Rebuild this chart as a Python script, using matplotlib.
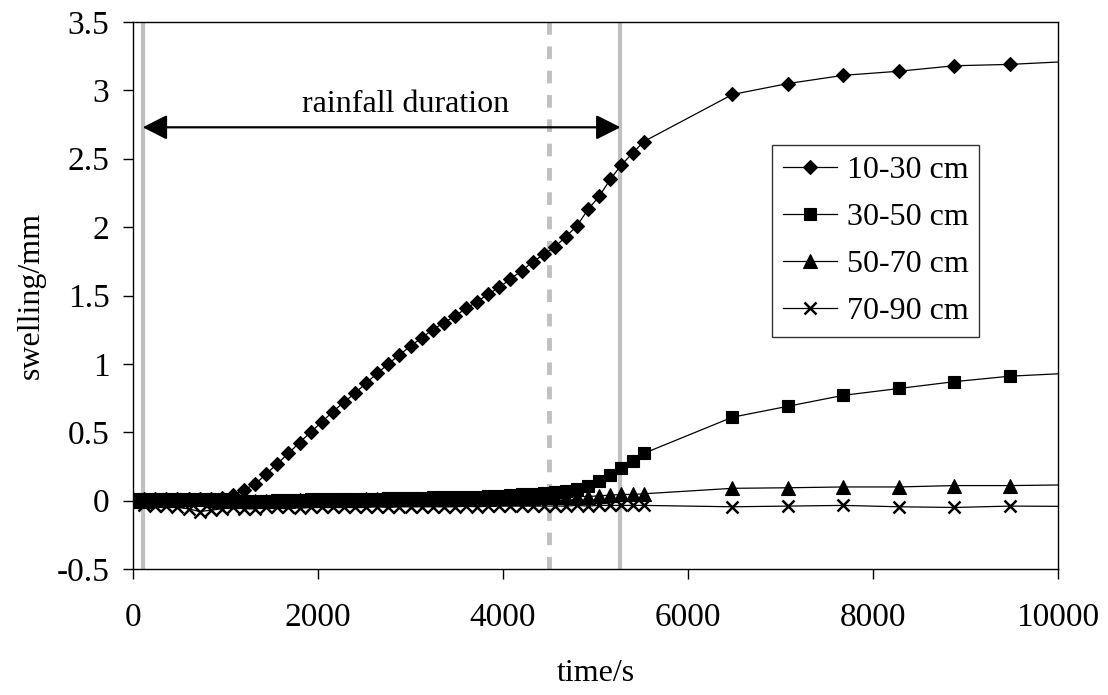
import matplotlib
matplotlib.use("Agg")
import matplotlib.pyplot as plt

plt.rcParams['font.family'] = ['Liberation Serif', 'DejaVu Serif']

# ---- data ----
t_dense = [0, 120, 240, 360, 480, 600, 720, 840, 960, 1080, 1200, 1320, 1440, 1560,
           1680, 1800, 1920, 2040, 2160, 2280, 2400, 2520, 2640, 2760, 2880, 3000,
           3120, 3240, 3360, 3480, 3600, 3720, 3840, 3960, 4080, 4200, 4320, 4440,
           4560, 4680, 4800, 4920, 5040, 5160, 5280, 5400, 5520]
t_sparse = [6480, 7080, 7680, 8280, 8880, 9480, 10080]

s1030_dense = [0.01, 0.01, 0.01, 0.01, 0.01, 0.01, 0.01, 0.01, 0.02, 0.04, 0.08, 0.12,
               0.195, 0.27, 0.345, 0.425, 0.50, 0.575, 0.65, 0.72, 0.785, 0.86, 0.93,
               1.0, 1.065, 1.13, 1.19, 1.25, 1.30, 1.35, 1.405, 1.455, 1.51, 1.56, 1.62,
               1.68, 1.745, 1.80, 1.855, 1.93, 2.01, 2.13, 2.225, 2.35, 2.455, 2.54, 2.625]
s1030_sparse = [2.97, 3.05, 3.11, 3.14, 3.18, 3.19, 3.21]

s3050_dense = [0.01, 0.01, 0.01, 0.01, 0.015, 0.015, 0.015, 0.01, 0.01, 0.005, 0.0, 0.0,
               0.0, 0.005, 0.005, 0.005, 0.01, 0.01, 0.01, 0.01, 0.015, 0.015, 0.015,
               0.02, 0.02, 0.02, 0.02, 0.025, 0.025, 0.025, 0.03, 0.03, 0.035, 0.035,
               0.04, 0.045, 0.05, 0.055, 0.06, 0.07, 0.085, 0.11, 0.14, 0.19, 0.24,
               0.29, 0.345]
s3050_sparse = [0.61, 0.69, 0.77, 0.82, 0.87, 0.91, 0.93]

s5070_dense = [0.0, 0.0, 0.005, 0.005, 0.005, 0.01, 0.01, 0.005, 0.0, 0.0, 0.0, 0.0,
               0.0, 0.0, 0.0, 0.005, 0.005, 0.005, 0.005, 0.005, 0.005, 0.01, 0.01,
               0.01, 0.01, 0.01, 0.01, 0.01, 0.015, 0.015, 0.015, 0.015, 0.015, 0.02,
               0.02, 0.02, 0.02, 0.025, 0.025, 0.025, 0.03, 0.03, 0.035, 0.04, 0.045,
               0.045, 0.05]
s5070_sparse = [0.09, 0.094, 0.10, 0.10, 0.11, 0.11, 0.115]

s7090_dense = [0.0, -0.03, -0.04, -0.04, -0.05, -0.06, -0.08, -0.07, -0.06, -0.05,
               -0.06, -0.06, -0.05, -0.05, -0.05, -0.055, -0.05, -0.05, -0.05, -0.05,
               -0.05, -0.05, -0.045, -0.05, -0.045, -0.045, -0.045, -0.045, -0.045,
               -0.045, -0.04, -0.045, -0.04, -0.04, -0.04, -0.04, -0.04, -0.04, -0.04,
               -0.04, -0.035, -0.04, -0.035, -0.035, -0.035, -0.035, -0.035]
s7090_sparse = [-0.045, -0.04, -0.035, -0.045, -0.05, -0.04, -0.042]

labels = ['10-30 cm', '30-50 cm', '50-70 cm', '70-90 cm']
markers = ['D', 's', '^', 'x']
msizes = [7, 9, 9.5, 9]

rain_start, rain_end, rain_mark = 105, 5270, 4500
arrow_y = 2.73
x_ticks = [0, 2000, 4000, 6000, 8000, 10000]
y_ticks = [-0.5, 0, 0.5, 1, 1.5, 2, 2.5, 3, 3.5]
y_ticklabels = ['-0.5', '0', '0.5', '1', '1.5', '2', '2.5', '3', '3.5']

FS = 23
TFS = 24

# ---- figure ----
fig = plt.figure(figsize=(11.08, 6.95), dpi=100)
ax = fig.add_axes([133/1108, 1-569/695, (1058-133)/1108, (569-22)/695])

gray = '#c0c0c0'
ax.axvline(rain_start, color=gray, lw=3, zorder=1)
ax.axvline(rain_end, color=gray, lw=3, zorder=1)
ax.axvline(rain_mark, color=gray, lw=3.5, dashes=(2.6, 2.4), zorder=1)

series = [(s1030_dense, s1030_sparse), (s3050_dense, s3050_sparse),
          (s5070_dense, s5070_sparse), (s7090_dense, s7090_sparse)]
for (d, s), lab, m, ms in zip(series, labels, markers, msizes):
    xs = t_dense + t_sparse
    ys = d + s
    ax.plot(xs, ys, color='black', lw=0.9, marker=m, markersize=ms,
            markerfacecolor='black', markeredgecolor='black',
            markeredgewidth=1.8 if m == 'x' else 0.8,
            markevery=list(range(len(xs) - 1)), label=lab, zorder=3,
            clip_on=True)

ax.annotate('', xy=(rain_start, arrow_y), xytext=(rain_end, arrow_y),
            arrowprops=dict(arrowstyle='<|-|>,head_length=0.75,head_width=0.38',
                            color='black', lw=1.6, shrinkA=0, shrinkB=0,
                            mutation_scale=20), zorder=4)
ax.text(2950, 2.90, 'rainfall duration', fontsize=FS, ha='center', va='center')

ax.set_xlim(0, 10000)
ax.set_ylim(-0.5, 3.5)
ax.set_xticks(x_ticks)
ax.set_xticklabels([str(v) for v in x_ticks])
ax.set_yticks(y_ticks)
ax.set_yticklabels(y_ticklabels)
ax.tick_params(axis='both', direction='out', length=7, width=1, labelsize=TFS)
ax.tick_params(axis='x', pad=17)
ax.tick_params(axis='y', pad=10)
for sp in ax.spines.values():
    sp.set_linewidth(1)
    sp.set_color('black')

ax.set_xlabel('time/s', fontsize=FS, labelpad=19)
ax.set_ylabel('swelling/mm', fontsize=FS, labelpad=8)

leg = ax.legend(loc='upper left', bbox_to_anchor=(772/1108, 1-145/695),
                bbox_transform=fig.transFigure, fontsize=FS, frameon=True,
                fancybox=False, edgecolor='black', handlelength=1.7,
                handletextpad=0.3, labelspacing=0.55, borderpad=0.34,
                borderaxespad=0)
leg.get_frame().set_linewidth(1)

fig.savefig('out.png', dpi=100)
